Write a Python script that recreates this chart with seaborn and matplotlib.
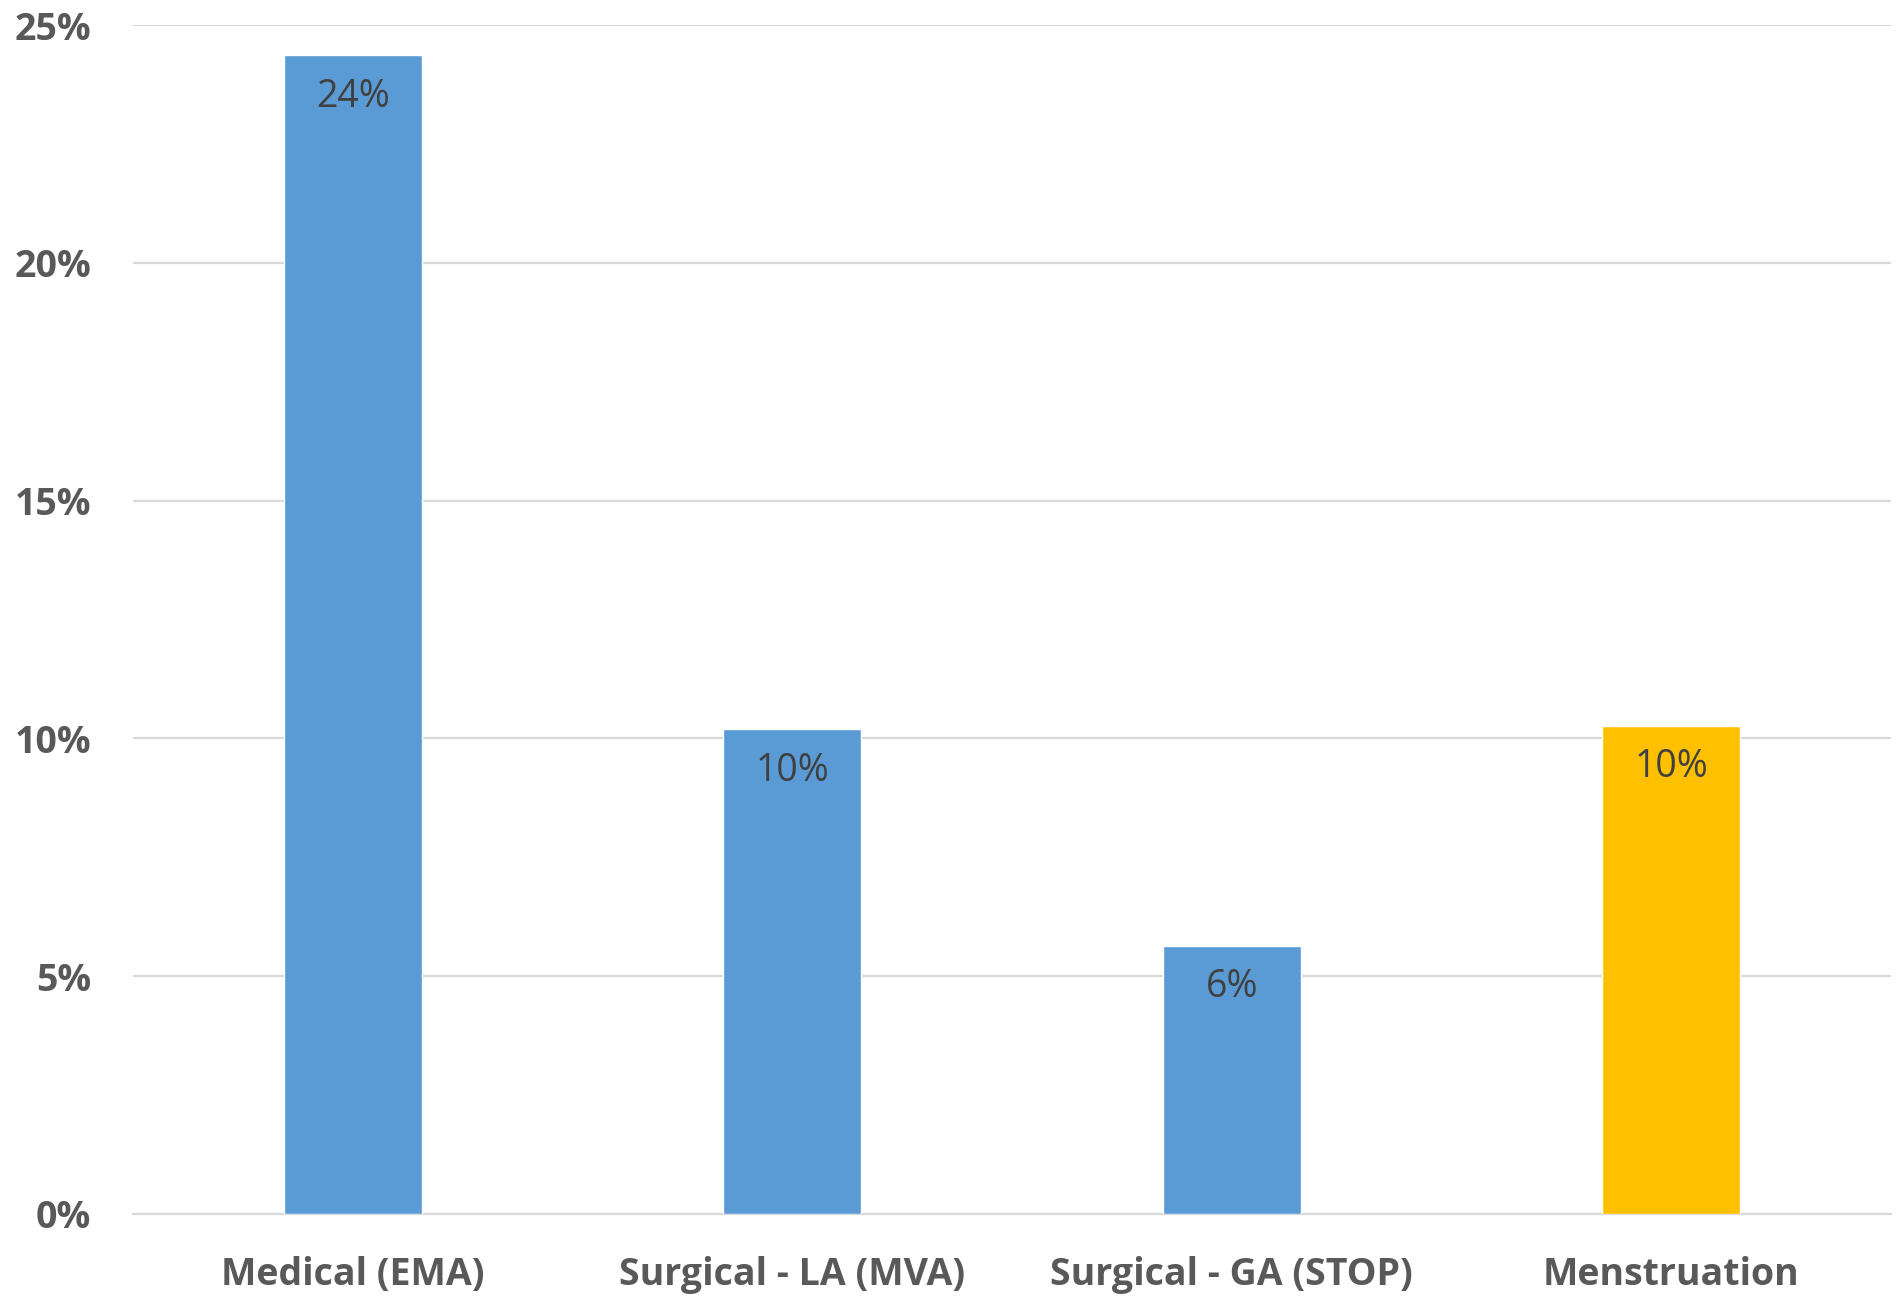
import matplotlib
matplotlib.use("Agg")
import matplotlib.pyplot as plt
import seaborn as sns
import pandas as pd
from matplotlib.ticker import FuncFormatter

categories = ["Medical (EMA)", "Surgical - LA (MVA)", "Surgical - GA (STOP)", "Menstruation"]
shares = [24.37, 10.2, 5.64, 10.27]
bar_colors = ["#5B9BD5", "#5B9BD5", "#5B9BD5", "#FFC000"]
y_ticks = [0, 5, 10, 15, 20, 25]

df = pd.DataFrame({"category": categories, "share": shares})

sns.set_theme(style="white")
plt.rcParams["font.family"] = ["Open Sans", "DejaVu Sans"]

fig = plt.figure(figsize=(18.96, 12.96), dpi=100)
ax = fig.add_axes([133 / 1896, 1 - 1214 / 1296, (1891 - 133) / 1896, (1214 - 25) / 1296])

sns.barplot(data=df, x="category", y="share", hue="category",
            palette=dict(zip(categories, bar_colors)), width=0.314,
            legend=False, ax=ax, saturation=1, zorder=3)

ax.set_ylim(0, 25)
ax.set_xlim(-0.5, 3.5)
ax.set_yticks(y_ticks)
ax.yaxis.set_major_formatter(FuncFormatter(lambda v, _: f"{v:.0f}%"))
ax.grid(axis="y", color="#d9d9d9", linewidth=1.6, zorder=0)
ax.grid(axis="x", visible=False)
for side in ["left", "right", "top"]:
    ax.spines[side].set_visible(False)
ax.spines["bottom"].set_color("#d9d9d9")
ax.spines["bottom"].set_linewidth(1.6)
ax.set_xlabel("")
ax.set_ylabel("")
ax.tick_params(axis="both", length=0)
ax.tick_params(axis="y", pad=30)
ax.tick_params(axis="x", pad=30)
for lab in ax.get_yticklabels() + ax.get_xticklabels():
    lab.set_fontsize(27)
    lab.set_fontweight("bold")
    lab.set_color("#595959")

for i, v in enumerate(shares):
    ax.annotate(f"{v:.0f}%", xy=(i, v), xytext=(0, -30), textcoords="offset points",
                ha="center", va="center", fontsize=27, color="#404040", zorder=4)

fig.savefig("out.png", dpi=100, facecolor="white")
